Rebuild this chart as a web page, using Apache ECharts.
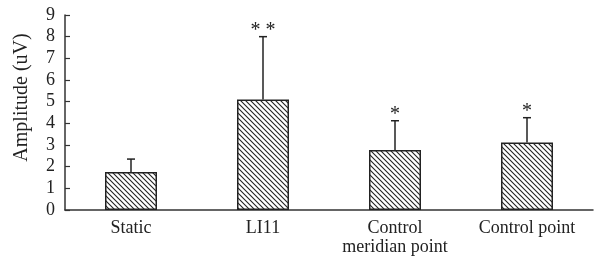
<!DOCTYPE html>
<html>
<head>
<meta charset="utf-8">
<script src="https://cdn.jsdelivr.net/npm/echarts@6/dist/echarts.min.js"></script>
<style>html,body{margin:0;padding:0;background:#fff}#c{width:594px;height:260px}</style>
</head>
<body>
<div id="c"></div>
<script>
var categories = ['Static', 'LI11', 'Control\nmeridian point', 'Control point'];
var means = [1.75, 5.1, 2.77, 3.12];
var sds = [0.6, 2.9, 1.35, 1.14];
var stars = ['', '**', '*', '*'];
var yTicks = [0, 1, 2, 3, 4, 5, 6, 7, 8, 9];

var FONT = '"Liberation Serif", "DejaVu Serif", serif';

function hatch() {
  var s = 5;
  var c = document.createElement('canvas');
  c.width = s; c.height = s;
  var g = c.getContext('2d');
  g.fillStyle = '#fff';
  g.fillRect(0, 0, s, s);
  g.strokeStyle = '#222';
  g.lineWidth = 1.1;
  g.beginPath();
  g.moveTo(-1, -1); g.lineTo(s + 1, s + 1);
  g.moveTo(-1, s - 1); g.lineTo(1, s + 1);
  g.moveTo(s - 1, -1); g.lineTo(s + 1, 1);
  g.stroke();
  return c;
}

var errData = means.map(function (m, i) { return [i, m, m + sds[i], stars[i]]; });

var chart = echarts.init(document.getElementById('c'), null, { renderer: 'canvas' });
chart.setOption({
  animation: false,
  grid: { left: 65, right: 1, top: 15, bottom: 50 },
  xAxis: {
    type: 'category',
    data: categories,
    boundaryGap: true,
    axisLine: { lineStyle: { color: '#333', width: 1.5 } },
    axisTick: { inside: true, length: 4, lineStyle: { color: '#333', width: 1.2 } },
    axisLabel: { interval: 0, hideOverlap: false, fontFamily: FONT, fontSize: 18, color: '#222', margin: 9, lineHeight: 19 }
  },
  yAxis: {
    type: 'value',
    min: yTicks[0],
    max: yTicks[yTicks.length - 1],
    interval: 1,
    name: 'Amplitude (uV)',
    nameLocation: 'middle',
    nameGap: 33,
    nameTextStyle: { fontFamily: FONT, fontSize: 20, color: '#222', padding: [0, 0, 0, 30] },
    splitLine: { show: false },
    axisLine: { show: true, lineStyle: { color: '#333', width: 1.5 } },
    axisTick: { show: true, inside: true, length: 5, lineStyle: { color: '#333', width: 1.2 } },
    axisLabel: { fontFamily: FONT, fontSize: 18, color: '#222', margin: 10 }
  },
  series: [
    {
      type: 'bar',
      data: means,
      barWidth: 52,
      itemStyle: {
        color: { image: hatch(), repeat: 'repeat' },
        borderColor: '#222',
        borderWidth: 1.5
      }
    },
    {
      type: 'custom',
      data: errData,
      z: 10,
      renderItem: function (params, api) {
        var x = api.value(0);
        var base = api.coord([x, api.value(1)]);
        var top = api.coord([x, api.value(2)]);
        var st = errData[params.dataIndex][3];
        var children = [
          { type: 'line', shape: { x1: base[0], y1: base[1], x2: top[0], y2: top[1] }, style: { stroke: '#222', lineWidth: 1.5 } },
          { type: 'line', shape: { x1: top[0] - 4, y1: top[1], x2: top[0] + 4, y2: top[1] }, style: { stroke: '#222', lineWidth: 1.5 } }
        ];
        if (st) {
          children.push({
            type: 'text',
            style: {
              text: st.split('').join(' '),
              x: top[0], y: top[1] + 4,
              align: 'center', verticalAlign: 'bottom',
              font: '20px ' + FONT, fill: '#222'
            }
          });
        }
        return { type: 'group', children: children };
      }
    }
  ]
});
</script>
</body>
</html>
